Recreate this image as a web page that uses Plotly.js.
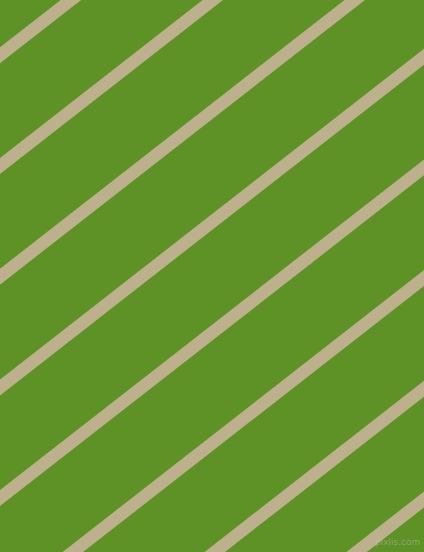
<!DOCTYPE html>
<html>
<head>
<meta charset="utf-8">
<script src="https://cdn.plot.ly/plotly-3.0.1.min.js"></script>
<style>
  html, body { margin: 0; padding: 0; background: #5e9126; }
  #chart { width: 424px; height: 552px; }
</style>
</head>
<body>
<div id="chart"></div>
<script>
// where each stripe centre crosses the left edge (y, px from top)
const stripeOffsets = [55.3, 166, 276.7, 387.4, 498.1, 608.8, 719.5, 830.2, 940.9];
const stripeSlope = 0.78; // drop in y per unit x
const stripeEnds = [-40, 464];

const traces = stripeOffsets.map(c => ({
  type: 'scatter',
  mode: 'lines',
  x: stripeEnds,
  y: stripeEnds.map(x => c - stripeSlope * x),
  line: { color: '#bdb08c', width: 12.6 },
  hoverinfo: 'skip',
  showlegend: false
}));

const layout = {
  width: 424,
  height: 552,
  margin: { l: 0, r: 0, t: 0, b: 0 },
  paper_bgcolor: '#5e9126',
  plot_bgcolor: '#5e9126',
  xaxis: { range: [0, 424], visible: false, fixedrange: true },
  yaxis: { range: [552, 0], visible: false, fixedrange: true },
  annotations: [{
    text: 'pixlis.com',
    xref: 'paper', yref: 'paper',
    x: 0.995, y: 0.005,
    xanchor: 'right', yanchor: 'bottom',
    showarrow: false,
    font: { family: 'DejaVu Sans', size: 9, color: 'rgba(200,200,200,0.45)' }
  }]
};

Plotly.newPlot('chart', traces, layout, { displayModeBar: false, staticPlot: true })
  .catch(error => console.error('Error rendering stripes:', error));
</script>
</body>
</html>
